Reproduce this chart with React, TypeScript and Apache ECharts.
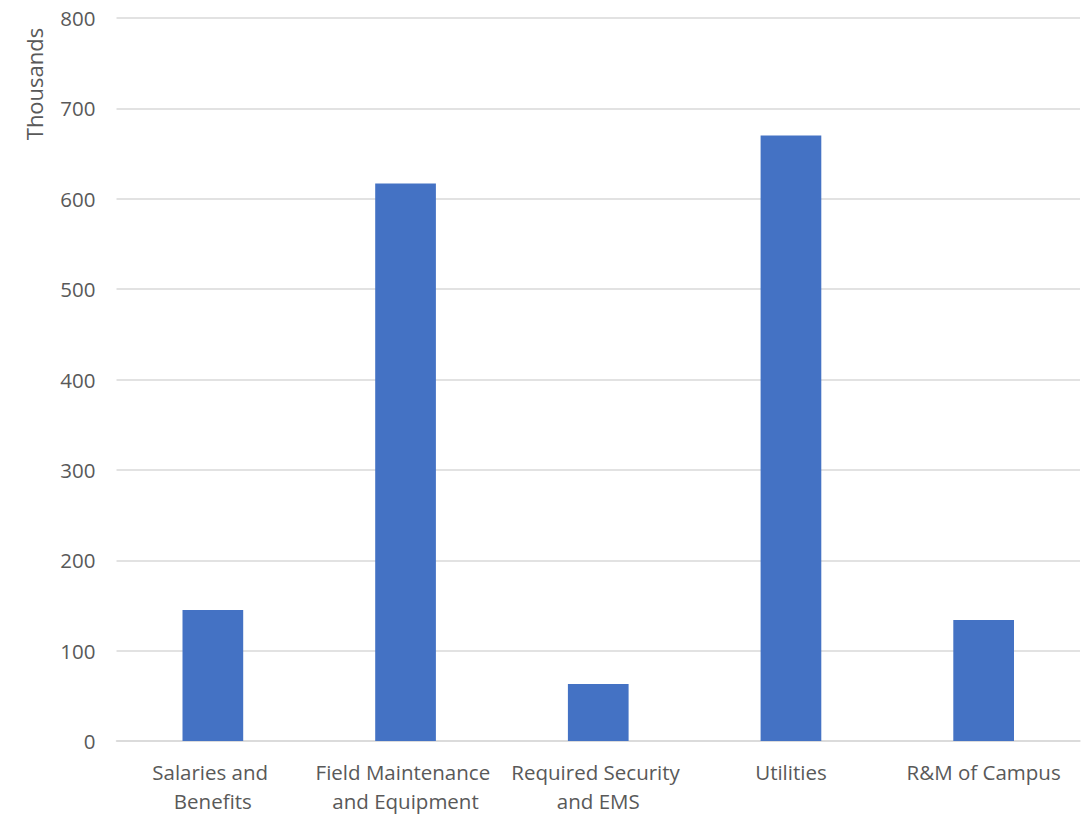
import React, { useEffect, useRef } from "react";
import * as echarts from "echarts";

// Spending by category, in thousands
const categories = [
  "Salaries and Benefits",
  "Field Maintenance and Equipment",
  "Required Security and EMS",
  "Utilities",
  "R&M of Campus",
];
const amounts = [145, 617, 63, 670, 134];
const yTicks = { min: 0, max: 800, interval: 100 };
const unitLabel = "Thousands";

const FONT = "'Open Sans', 'Noto Sans', sans-serif";
const TEXT = "#595959";
const GRID = "#d9d9d9";

export default function App() {
  const ref = useRef<HTMLDivElement>(null);

  useEffect(() => {
    if (!ref.current) return;
    const chart = echarts.init(ref.current, null, { renderer: "svg" });
    chart.setOption({
      animation: false,
      grid: { left: 116.5, right: 9, top: 18, bottom: 73 },
      xAxis: {
        type: "category",
        data: categories,
        axisLine: { show: true, lineStyle: { color: GRID, width: 1.5 } },
        axisTick: { show: false },
        axisLabel: {
          color: TEXT,
          fontFamily: FONT,
          fontSize: 20.5,
          lineHeight: 29,
          margin: 16,
          interval: 0,
          width: 188,
          overflow: "break",
        },
      },
      yAxis: {
        type: "value",
        min: yTicks.min,
        max: yTicks.max,
        interval: yTicks.interval,
        axisLine: { show: false },
        axisTick: { show: false },
        splitLine: { lineStyle: { color: GRID, width: 1.5 } },
        axisLabel: {
          color: TEXT,
          fontFamily: FONT,
          fontSize: 20.5,
          margin: 21,
        },
      },
      graphic: [
        {
          type: "text",
          x: 34,
          y: 84,
          rotation: Math.PI / 2,
          style: {
            text: unitLabel,
            fill: TEXT,
            font: `22px ${FONT}`,
            align: "center",
            verticalAlign: "middle",
          },
        },
      ],
      series: [
        {
          type: "bar",
          data: amounts,
          barWidth: "31.5%",
          itemStyle: { color: "#4472c4" },
        },
      ],
    });
    return () => chart.dispose();
  }, []);

  return (
    <div
      ref={ref}
      style={{ position: "absolute", left: 0, top: 0, width: 1089, height: 815, overflow: "visible" }}
    />
  );
}
